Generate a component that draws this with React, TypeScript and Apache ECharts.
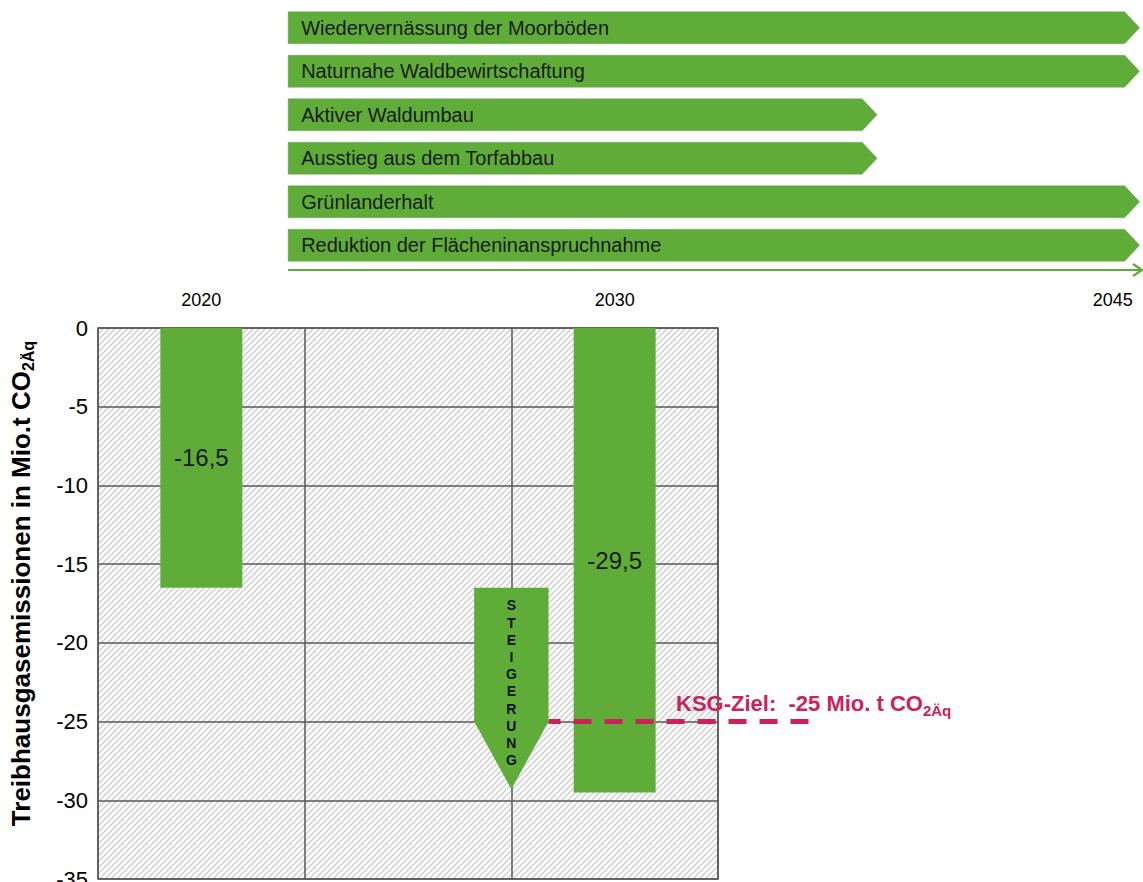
import React, { useEffect, useRef } from "react";
import * as echarts from "echarts";

// ---- data ----
const yearLabels = ["2020", "2030", "2045"];
const yearPositions = [0.5, 2.5, 4.91];

const measures = [
  "Wiedervernässung der Moorböden",
  "Naturnahe Waldbewirtschaftung",
  "Aktiver Waldumbau",
  "Ausstieg aus dem Torfabbau",
  "Grünlanderhalt",
  "Reduktion der Flächeninanspruchnahme",
];
const measureStart = [0.92, 0.92, 0.92, 0.92, 0.92, 0.92];
const measureEnd = [5.04, 5.04, 3.77, 3.77, 5.04, 5.04];
const timelineStart = 0.92;

const barPositions = [0.5, 2.5];
const barValues = [-16.5, -29.5];

const increaseLabel = "STEIGERUNG";
const increasePos = 2.0;
const increaseFrom = -16.5;
const increaseShoulder = -25;
const increaseTip = -29.3;

const ksgTarget = -25;
const ksgLineFrom = 2.18;
const ksgLineTo = 3.455;
const ksgLabelAt = 2.797;

const yMin = -35;
const yMax = 0;
const yInterval = 5;
const xMin = 0;
const xMax = 3;
const topXMax = 5.0565;

// ---- style ----
const GREEN = "#5FAD38";
const KSG = "#C9235B";
const GRID = "#595959";
const FONT = '"Liberation Sans", Arial, sans-serif';

function makeHatch() {
  const s = 6;
  const c = document.createElement("canvas");
  c.width = s;
  c.height = s;
  const ctx = c.getContext("2d")!;
  ctx.fillStyle = "#ffffff";
  ctx.fillRect(0, 0, s, s);
  ctx.strokeStyle = "#cdcdcd";
  ctx.lineWidth = 1.4;
  ctx.beginPath();
  ctx.moveTo(-1, s + 1);
  ctx.lineTo(s + 1, -1);
  ctx.moveTo(-1, 1);
  ctx.lineTo(1, -1);
  ctx.moveTo(s - 1, s + 1);
  ctx.lineTo(s + 1, s - 1);
  ctx.stroke();
  return c;
}

export default function App() {
  const ref = useRef<HTMLDivElement>(null);

  useEffect(() => {
    if (!ref.current) return;
    const chart = echarts.init(ref.current, null, { renderer: "svg" });
    const hatch = makeHatch();

    const option: any = {
      animation: false,
      backgroundColor: "#ffffff",
      grid: [
        {
          left: 98,
          top: 328,
          width: 620,
          height: 551,
          show: true,
          outerBoundsMode: "none",
          containLabel: false,
          backgroundColor: { image: hatch, repeat: "repeat" },
          borderColor: GRID,
          borderWidth: 1.5,
        },
        {
          left: 98,
          top: 6,
          width: 1045,
          height: 261,
          show: false,
          outerBoundsMode: "none",
          containLabel: false,
        },
      ],
      xAxis: [
        {
          type: "value",
          gridIndex: 0,
          min: xMin,
          max: xMax,
          interval: 1,
          axisLine: { show: false },
          axisTick: { show: false },
          axisLabel: { show: false },
          splitLine: { show: true, lineStyle: { color: GRID, width: 1.5 } },
        },
        {
          type: "value",
          gridIndex: 1,
          min: 0,
          max: topXMax,
          axisLine: { show: false },
          axisTick: { show: false },
          splitLine: { show: false },
          axisLabel: {
            show: true,
            customValues: yearPositions,
            margin: 24,
            fontSize: 18,
            color: "#000",
            fontFamily: FONT,
            formatter: (v: number) => {
              let best = 0;
              yearPositions.forEach((p, i) => {
                if (Math.abs(p - v) < Math.abs(yearPositions[best] - v)) best = i;
              });
              return yearLabels[best];
            },
          },
        },
      ],
      yAxis: [
        {
          type: "value",
          gridIndex: 0,
          min: yMin,
          max: yMax,
          interval: yInterval,
          axisLine: { show: false },
          axisTick: { show: false },
          axisLabel: { fontSize: 22, color: "#000", margin: 10, fontFamily: FONT },
          splitLine: { show: true, lineStyle: { color: GRID, width: 1.5 } },
          name: "{a|Treibhausgasemissionen in Mio.t CO}{s|2Äq}",
          nameLocation: "middle",
          nameRotate: 90,
          nameGap: 62,
          nameTextStyle: {
            padding: [0, 0, 0, 40],
            rich: {
              a: { fontSize: 26, fontWeight: "bold", color: "#000", fontFamily: FONT, lineHeight: 30 },
              s: {
                fontSize: 16,
                fontWeight: "bold",
                color: "#000",
                fontFamily: FONT,
                verticalAlign: "bottom",
                lineHeight: 30,
                padding: [10, 0, 0, 0],
              },
            },
          },
        },
        {
          type: "category",
          gridIndex: 1,
          inverse: true,
          data: measures,
          show: false,
        },
      ],
      series: [
        {
          type: "custom",
          name: "measures",
          xAxisIndex: 1,
          yAxisIndex: 1,
          clip: false,
          encode: { x: [0, 2], y: 1 },
          data: measures.map((_, i) => [measureStart[i], i, measureEnd[i]]),
          renderItem: (params: any, api: any) => {
            const s = api.coord([api.value(0), api.value(1)]);
            const e = api.coord([api.value(2), api.value(1)]);
            const h = 32;
            const tip = 15;
            const x0 = s[0];
            const x1 = e[0];
            const yc = s[1];
            return {
              type: "group",
              children: [
                {
                  type: "polygon",
                  shape: {
                    points: [
                      [x0, yc - h / 2],
                      [x1 - tip, yc - h / 2],
                      [x1, yc],
                      [x1 - tip, yc + h / 2],
                      [x0, yc + h / 2],
                    ],
                  },
                  style: { fill: GREEN, stroke: "rgba(120,150,110,0.45)", lineWidth: 1 },
                },
                {
                  type: "text",
                  x: x0 + 13,
                  y: yc,
                  style: {
                    text: measures[params.dataIndex],
                    fill: "#1a1a1a",
                    fontSize: 20,
                    fontFamily: FONT,
                    align: "left",
                    verticalAlign: "middle",
                  },
                },
              ],
            };
          },
        },
        {
          type: "custom",
          name: "timeline",
          xAxisIndex: 1,
          yAxisIndex: 1,
          clip: false,
          encode: { x: 0 },
          data: [[timelineStart]],
          renderItem: (params: any, api: any) => {
            const cs = params.coordSys;
            const s = api.coord([api.value(0), 0]);
            const y = cs.y + cs.height + 3;
            const xe = cs.x + cs.width - 1;
            return {
              type: "group",
              children: [
                {
                  type: "line",
                  shape: { x1: s[0], y1: y, x2: xe, y2: y },
                  style: { stroke: GREEN, lineWidth: 2.2 },
                },
                {
                  type: "polyline",
                  shape: { points: [[xe - 9, y - 6], [xe, y], [xe - 9, y + 6]] },
                  style: { stroke: GREEN, lineWidth: 2.2, fill: "none" },
                },
              ],
            };
          },
        },
        {
          type: "bar",
          name: "emissions",
          xAxisIndex: 0,
          yAxisIndex: 0,
          barWidth: 82,
          data: barPositions.map((x, i) => [x, barValues[i]]),
          itemStyle: { color: GREEN },
          label: {
            show: true,
            position: "inside",
            fontSize: 24,
            color: "#1a1a1a",
            fontFamily: FONT,
            formatter: (p: any) => String(p.value[1]).replace(".", ","),
          },
          z: 3,
        },
        {
          type: "custom",
          name: "increase",
          xAxisIndex: 0,
          yAxisIndex: 0,
          clip: false,
          encode: { x: 0, y: [1, 2, 3] },
          data: [[increasePos, increaseFrom, increaseShoulder, increaseTip]],
          z: 4,
          renderItem: (params: any, api: any) => {
            const top = api.coord([api.value(0), api.value(1)]);
            const sh = api.coord([api.value(0), api.value(2)]);
            const tip = api.coord([api.value(0), api.value(3)]);
            const half = api.size([0.36, 0])[0] / 2;
            const cx = top[0];
            return {
              type: "group",
              children: [
                {
                  type: "polygon",
                  shape: {
                    points: [
                      [cx - half, top[1]],
                      [cx + half, top[1]],
                      [cx + half, sh[1]],
                      [cx, tip[1]],
                      [cx - half, sh[1]],
                    ],
                  },
                  style: { fill: GREEN },
                },
                {
                  type: "text",
                  x: cx,
                  y: top[1] + 9,
                  style: {
                    text: increaseLabel.split("").join("\n"),
                    fill: "#111",
                    fontSize: 14,
                    fontWeight: "bold",
                    fontFamily: FONT,
                    lineHeight: 17.2,
                    align: "center",
                    verticalAlign: "top",
                  },
                },
              ],
            };
          },
        },
        {
          type: "custom",
          name: "ksg",
          xAxisIndex: 0,
          yAxisIndex: 0,
          clip: false,
          encode: { x: [0, 2], y: 1 },
          data: [[ksgLineFrom, ksgTarget, ksgLineTo, ksgLabelAt]],
          z: 6,
          renderItem: (params: any, api: any) => {
            const a = api.coord([api.value(0), api.value(1)]);
            const b = api.coord([api.value(2), api.value(1)]);
            const l = api.coord([api.value(3), api.value(1)]);
            return {
              type: "group",
              children: [
                {
                  type: "line",
                  shape: { x1: a[0], y1: a[1], x2: b[0], y2: b[1] },
                  style: { stroke: KSG, lineWidth: 5, lineDash: [18, 13], lineDashOffset: 6 },
                },
                {
                  type: "text",
                  x: l[0],
                  y: l[1] - 4,
                  style: {
                    text: `{a|KSG-Ziel:  ${String(api.value(1))} Mio. t CO}{s|2Äq}`,
                    align: "left",
                    verticalAlign: "bottom",
                    rich: {
                      a: { fontSize: 22, fontWeight: "bold", fill: KSG, fontFamily: FONT, lineHeight: 28 },
                      s: {
                        fontSize: 15,
                        fontWeight: "bold",
                        fill: KSG,
                        fontFamily: FONT,
                        lineHeight: 28,
                        verticalAlign: "bottom",
                        padding: [8, 0, 0, 0],
                      },
                    },
                  },
                },
              ],
            };
          },
        },
      ],
    };

    chart.setOption(option);
    return () => chart.dispose();
  }, []);

  return (
    <div
      ref={ref}
      style={{ position: "absolute", left: 0, top: 0, width: 1143, height: 882 }}
    />
  );
}
